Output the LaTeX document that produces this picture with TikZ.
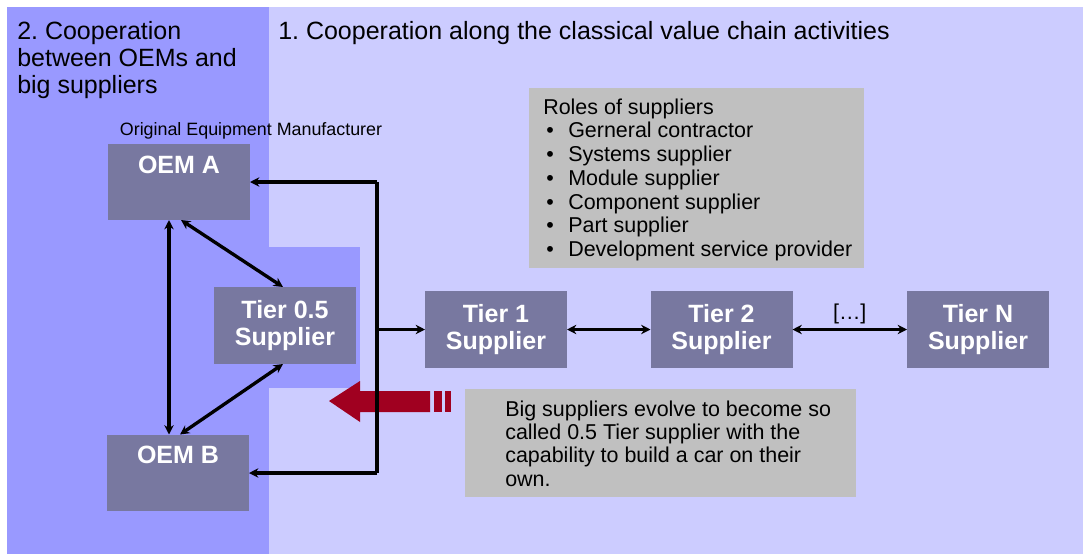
\documentclass[tikz,border=0pt]{standalone}
\usepackage{fontspec}
\setmainfont{Liberation Sans}
\usetikzlibrary{arrows.meta,calc}
\definecolor{darkbg}{RGB}{153,153,255}
\definecolor{lightbg}{RGB}{204,204,255}
\definecolor{boxc}{RGB}{120,120,160}
\definecolor{grayc}{RGB}{192,192,192}
\definecolor{redc}{RGB}{160,0,32}
\frenchspacing
\begin{document}
\begin{tikzpicture}[x=0.75pt,y=-0.75pt,
  tierbox/.style={fill=boxc,draw=none,minimum width=106.5pt,minimum height=57.75pt,inner sep=0pt,outer sep=0pt,text=white,font=\fontsize{18.75}{20}\selectfont\bfseries,align=center},
  oembox/.style={fill=boxc,draw=none,minimum width=106.5pt,text height=21.75pt,text depth=35.25pt,inner sep=0pt,outer sep=0pt,text=white,font=\fontsize{18.75}{21}\selectfont\bfseries},
  conn/.style={line width=2.5pt,black},
  arr/.style={conn,-{Stealth[length=7pt,width=7pt]}},
  darr/.style={conn,{Stealth[length=7pt,width=7pt]}-{Stealth[length=7pt,width=7pt]}},
  bigtext/.style={font=\fontsize{18.75}{20.25}\selectfont,inner sep=0pt},
  midtext/.style={font=\fontsize{16.1}{17.8}\selectfont,inner sep=0pt},
]
\useasboundingbox (0,0) rectangle (1083,554);
\fill[white] (0,0) rectangle (1083,554);
% backgrounds
\fill[lightbg] (269,7) rectangle (1083,554);
\fill[darkbg] (7,7) rectangle (269,554);
\fill[darkbg] (269,247) rectangle (360,388);

% titles
\node[bigtext,anchor=base west,align=left] (t2) at (17,93.5)
  {2. Cooperation\\between OEMs and\\big suppliers};
\node[bigtext,anchor=base west] (t1) at (278,39.5)
  {1. Cooperation along the classical value chain activities};
\node[font=\fontsize{13.4}{15}\selectfont,inner sep=0pt,anchor=base] (oemlabel) at (251,135)
  {Original Equipment Manufacturer};

% roles box
\node[fill=grayc,minimum width=251.25pt,minimum height=135pt,inner sep=0pt,anchor=north west] (roles) at (529,88) {};
\node[midtext,anchor=base west,align=left] (rolestext) at (543,256.5)
  {Roles of suppliers\\
   \makebox[18.75pt][l]{\hspace{2.25pt}\textbullet}Gerneral contractor\\
   \makebox[18.75pt][l]{\hspace{2.25pt}\textbullet}Systems supplier\\
   \makebox[18.75pt][l]{\hspace{2.25pt}\textbullet}Module supplier\\
   \makebox[18.75pt][l]{\hspace{2.25pt}\textbullet}Component supplier\\
   \makebox[18.75pt][l]{\hspace{2.25pt}\textbullet}Part supplier\\
   \makebox[18.75pt][l]{\hspace{2.25pt}\textbullet}Development service provider};

% big suppliers box
\node[fill=grayc,minimum width=293.25pt,minimum height=81pt,inner sep=0pt,anchor=north west] (bigbox) at (465,389) {};
\node[midtext,anchor=base west,align=left,font=\fontsize{16.1}{17.5}\selectfont] (bigboxtext) at (505,486)
  {Big suppliers evolve to become so\\called 0.5 Tier supplier with the\\capability to build a car on their\\own.};

% boxes
\node[oembox] (OEMA) at (179,182) {OEM A};
\node[oembox] (OEMB) at (178,472.5) {OEM B};
\node[tierbox] (T05) at (285,325.5) {Tier 0.5\\Supplier};
\node[tierbox] (T1) at (496,329.5) {Tier 1\\Supplier};
\node[tierbox] (T2) at (721.5,329.5) {Tier 2\\Supplier};
\node[tierbox] (TN) at (978,329.5) {Tier N\\Supplier};

% red arrow
\fill[redc] (329,401) -- (360,381) -- (360,391) -- (430,391) -- (430,412) -- (360,412) -- (360,422) -- cycle;
\fill[redc] (434,391) rectangle (442,412);
\fill[redc] (445,391) rectangle (451,412);

% connectors
\coordinate (trtop) at (377,182);
\coordinate (trbot) at (377,473);
\draw[conn] (trtop) -- (trbot);
\draw[arr] (trtop) -- (OEMA.east);
\draw[arr] (trbot) -- (OEMB.east |- trbot);
\draw[arr] (T1.west -| trtop) -- (T1.west);
\draw[darr] ($(OEMA.south)+(-10,0)$) -- ($(OEMB.north)+(-9,0)$);
\draw[darr] ($(OEMA.south)+(2,0)$) -- ($(T05.north)+(-2,0)$);
\draw[darr] ($(T05.south)+(-2,0)$) -- ($(OEMB.north)+(2,0)$);
\draw[darr] (T1.east) -- (T2.west);
\draw[darr] (T2.east) -- node[midtext,above=3pt] {[\ldots]} (TN.west);
\end{tikzpicture}
\end{document}
